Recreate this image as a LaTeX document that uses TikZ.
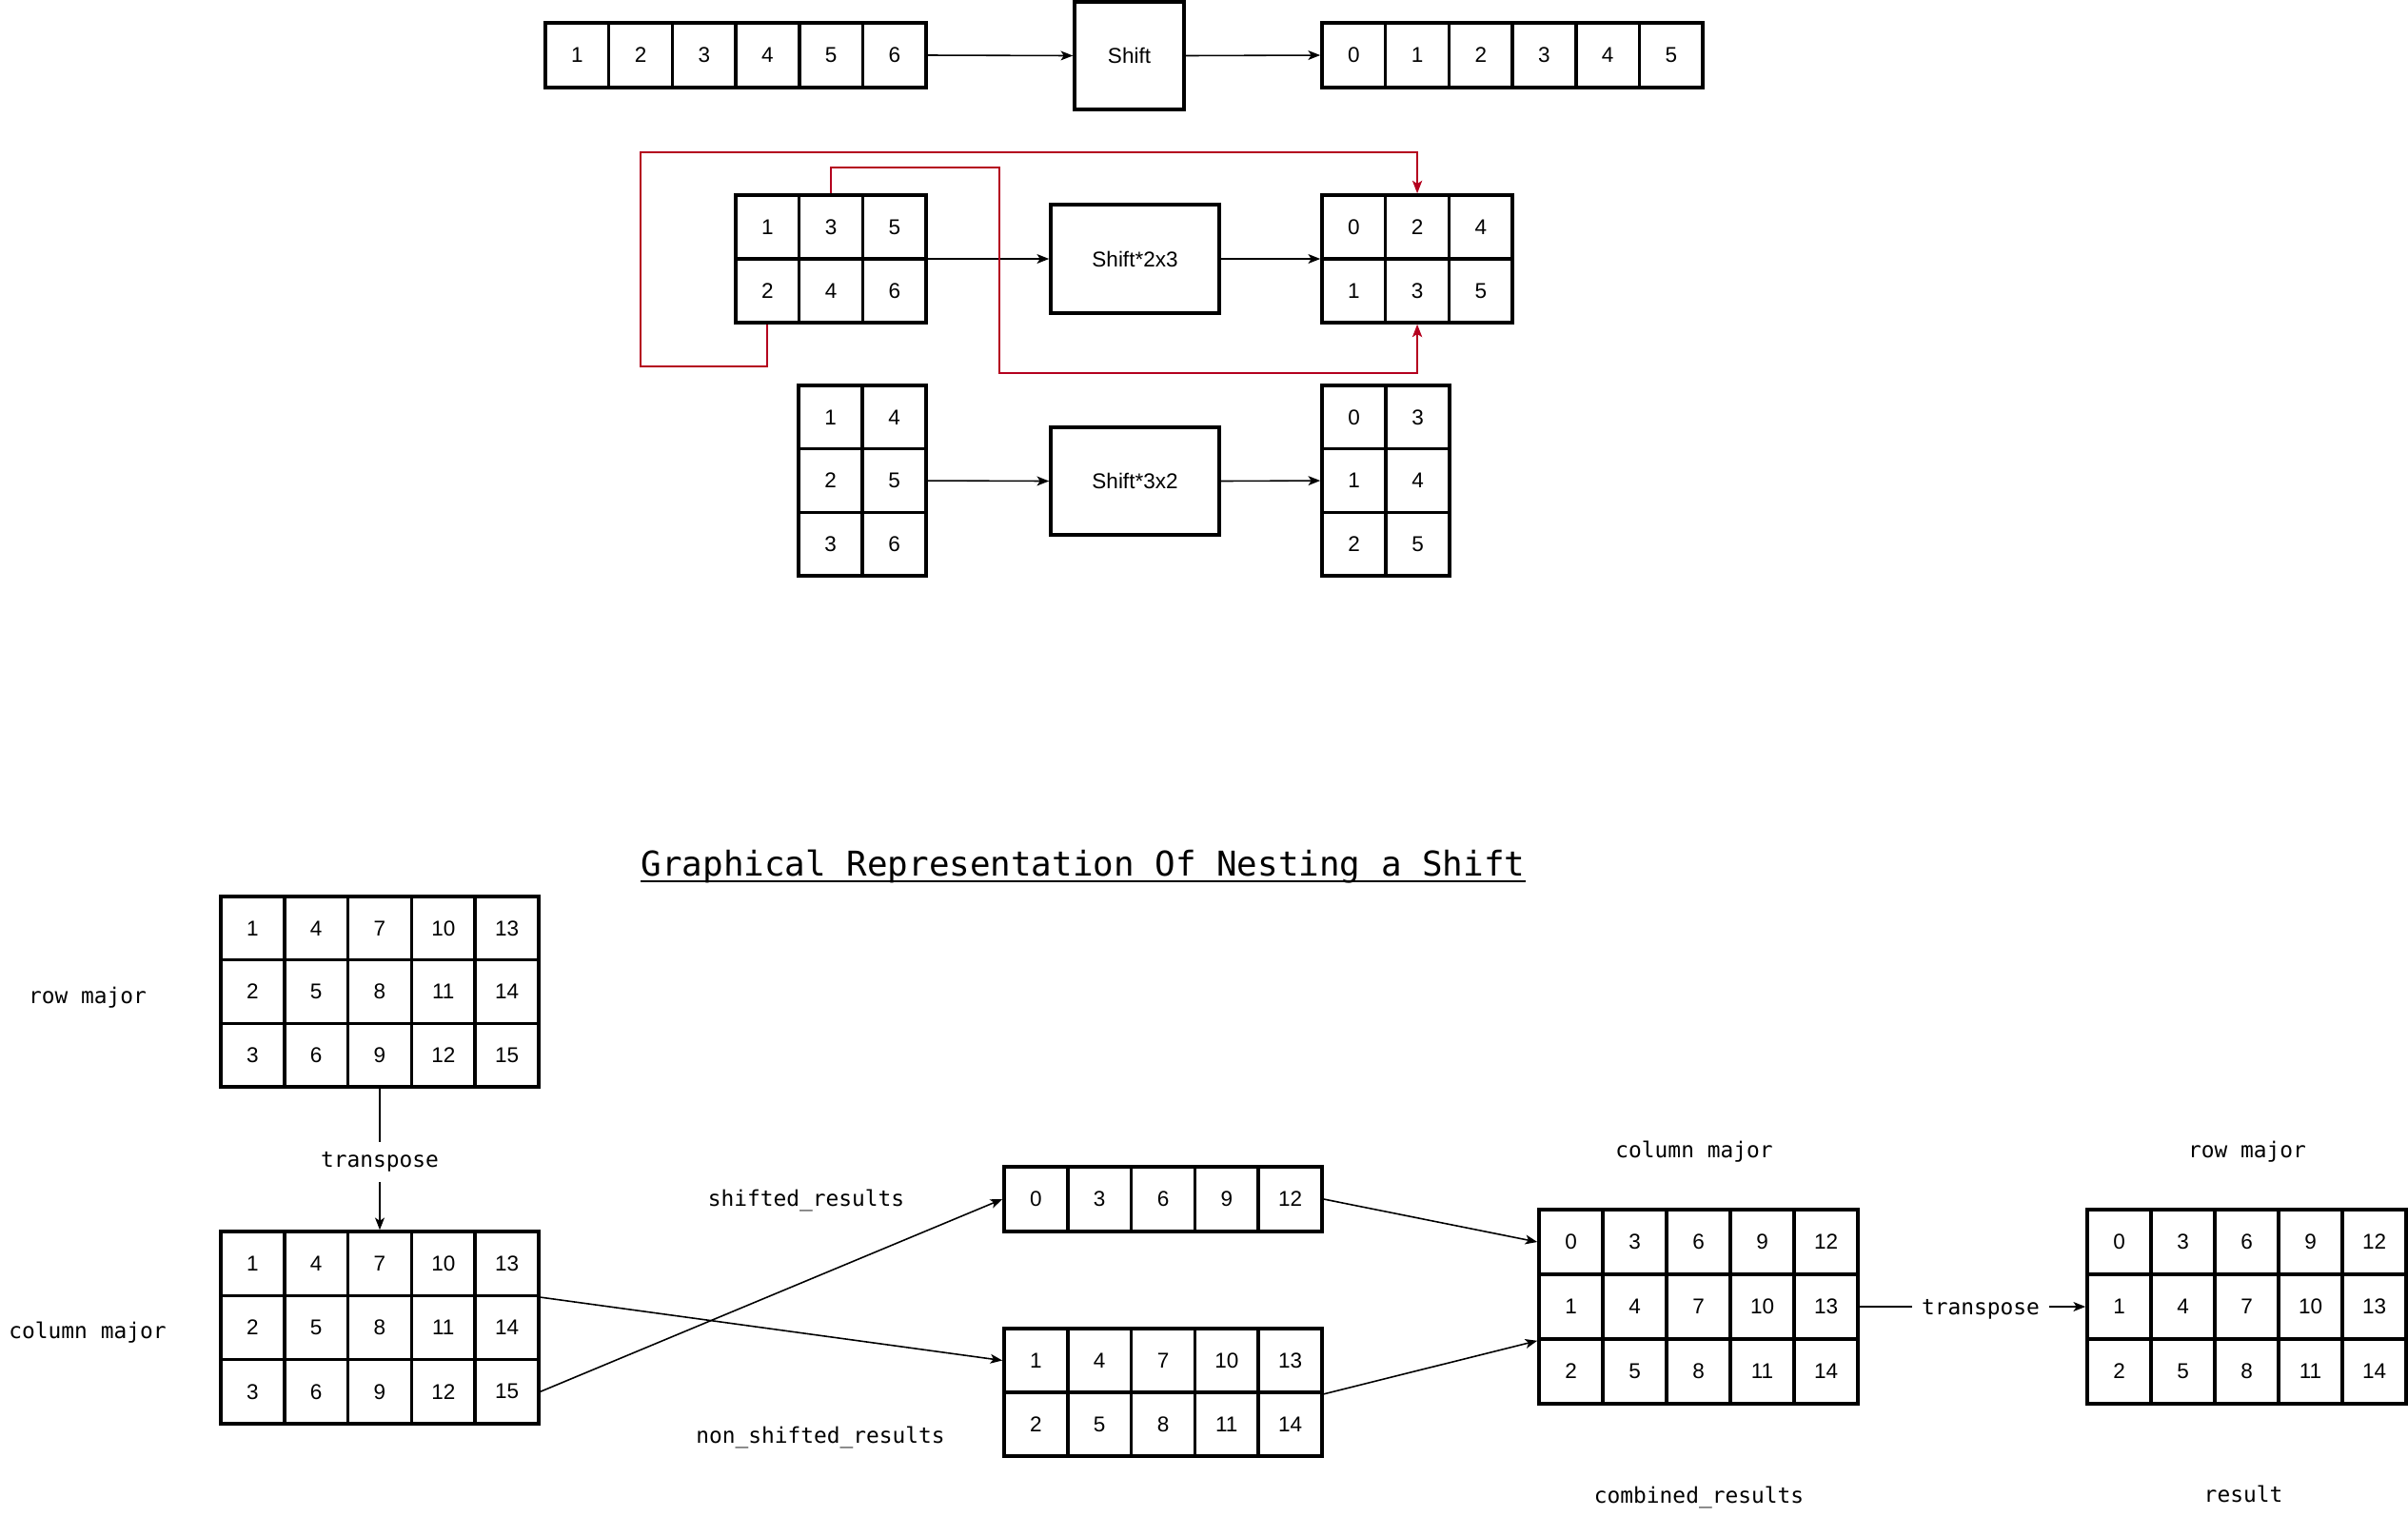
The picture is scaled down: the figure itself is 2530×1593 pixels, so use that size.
\documentclass[tikz,border=0pt]{standalone}
\usepackage{fontspec}
\setsansfont{Liberation Sans}
\setmonofont{DejaVu Sans Mono}
\usetikzlibrary{arrows.meta}
\definecolor{redline}{RGB}{180,0,30}
\newcommand\mgrid[8]{%
  \pgfmathsetmacro\gcx{#2+#4*#6/2}%
  \pgfmathsetmacro\gcy{#3+#5*#7/2}%
  \node[gridframe, minimum width={#4*#6*0.284528pt}, minimum height={#5*#7*0.284528pt}] (#1) at (\gcx,\gcy) {};
  \foreach \v [count=\i from 0] in {#8} {
    \pgfmathtruncatemacro\cc{mod(\i,#4)}
    \pgfmathtruncatemacro\rr{floor(\i/#4)}
    \node[cellbox, minimum width={#6*0.284528pt}, minimum height={#7*0.284528pt}] (#1-\rr-\cc) at ({#2+(\cc+0.5)*#6},{#3+(\rr+0.5)*#7}) {\v};
  }
}
\tikzset{
  gridframe/.style={draw, line width=1pt, inner sep=0pt},
  cellbox/.style={draw, line width=1pt, inner sep=0pt, font=\sffamily\fontsize{6.4}{7}\selectfont},
  opbox/.style={draw, line width=1pt, inner sep=0pt, font=\sffamily\fontsize{6.4}{7}\selectfont},
  conn/.style={line width=0.45pt, -{Stealth[length=3.6pt,width=2.8pt,inset=0.9pt]}},
  plainconn/.style={line width=0.45pt},
  redconn/.style={draw=redline, line width=0.55pt, -{Stealth[length=3.8pt,width=2.9pt,inset=0.9pt]}},
  lbl/.style={font=\ttfamily\fontsize{6.5}{7.5}\selectfont, inner sep=2pt},
  trlbl/.style={font=\ttfamily\fontsize{6.5}{7.5}\selectfont, inner xsep=2.6pt, inner ysep=2.8pt},
  titletext/.style={font=\ttfamily\fontsize{10.2}{12}\selectfont, inner sep=0pt}
}
\begin{document}
\begin{tikzpicture}[x=0.01cm, y=-0.01cm]
\useasboundingbox (0,0) rectangle (2530,1593);

% ---------- top: 1D shift ----------
\mgrid{A}{573}{24}{6}{1}{66.7}{68}{1,2,3,4,5,6}
\node[opbox, minimum width={115*0.284528pt}, minimum height={113*0.284528pt}] (shift) at (1186.5,58.5) {Shift};
\mgrid{B}{1389}{24}{6}{1}{66.7}{68}{0,1,2,3,4,5}
\draw[conn] (A.east) -- (shift.west);
\draw[conn] (shift.east) -- (B.west);

% ---------- 2x3 ----------
\mgrid{C}{773}{205}{3}{2}{66.7}{67}{1,3,5,2,4,6}
\node[opbox, minimum width={177*0.284528pt}, minimum height={114*0.284528pt}] (shift23) at (1192.5,272) {Shift*2x3};
\mgrid{D}{1389}{205}{3}{2}{66.7}{67}{0,2,4,1,3,5}
\draw[conn] (C.east) -- (shift23.west);
\draw[conn] (shift23.east) -- (D.west);

\coordinate (r1a) at (673,385);
\coordinate (r1b) at (673,160);
\coordinate (r2a) at (1050,176);
\coordinate (r2b) at (1050,392);
\draw[redconn] (C-1-0.south) |- (r1a) -- (r1b) -| (D-0-1.north);
\draw[redconn] (C-0-1.north) |- (r2a) -- (r2b) -| (D-1-1.south);

% ---------- 3x2 ----------
\mgrid{E}{839}{405}{2}{3}{67}{66.7}{1,4,2,5,3,6}
\node[opbox, minimum width={177*0.284528pt}, minimum height={113*0.284528pt}] (shift32) at (1192.5,505.5) {Shift*3x2};
\mgrid{F}{1389}{405}{2}{3}{67}{66.7}{0,3,1,4,2,5}
\draw[conn] (E.east) -- (shift32.west);
\draw[conn] (shift32.east) -- (F.west);

% ---------- bottom: nesting ----------
\node[titletext, anchor=base] (title) at (1138,920) {Graphical Representation Of Nesting a Shift};
\draw[line width=0.7pt] ([yshift=-1.7pt]title.base west) -- ([yshift=-1.7pt]title.base east);

\mgrid{G}{232}{942}{5}{3}{66.8}{66.7}{1,4,7,10,13,2,5,8,11,14,3,6,9,12,15}
\node[lbl] (lrm1) at (92,1048) {row major};
\node[trlbl] (tr1) at (399,1221) {transpose};
\mgrid{H}{232}{1294}{5}{3}{66.8}{67.3}{1,4,7,10,13,2,5,8,11,14,3,6,9,12,15}
\node[lbl] (lcm1) at (92,1400) {column major};
\draw[plainconn] (G-2-2.south) -- (tr1.north);
\draw[conn] (tr1.south) -- (H-0-2.north);

\mgrid{S}{1055}{1226}{5}{1}{66.8}{68}{0,3,6,9,12}
\node[lbl] (lsh) at (847,1261) {shifted\_results};
\mgrid{N}{1055}{1396}{5}{2}{66.8}{67}{1,4,7,10,13,2,5,8,11,14}
\node[lbl] (lnsh) at (862,1510) {non\_shifted\_results};

\draw[conn] (H-0-4.south east) -- (N-0-0.west);
\draw[conn] (H-2-4.east) -- (S.west);

\mgrid{K}{1617}{1271}{5}{3}{67}{68}{0,3,6,9,12,1,4,7,10,13,2,5,8,11,14}
\node[lbl] (lcm2) at (1780,1210) {column major};
\node[lbl] (lcomb) at (1785,1573) {combined\_results};
\draw[conn] (S.east) -- (K-0-0.west);
\draw[conn] (N-0-4.south east) -- (K-1-0.south west);

\mgrid{R}{2193}{1271}{5}{3}{67}{68}{0,3,6,9,12,1,4,7,10,13,2,5,8,11,14}
\node[lbl] (lrm2) at (2361,1210) {row major};
\node[lbl] (lres) at (2357,1570) {result};
\node[trlbl] (tr2) at (2081,1376) {transpose};
\draw[plainconn] (K.east) -- (K.east -| tr2.west);
\draw[conn] (K.east -| tr2.east) -- (R.west);
\end{tikzpicture}
\end{document}
